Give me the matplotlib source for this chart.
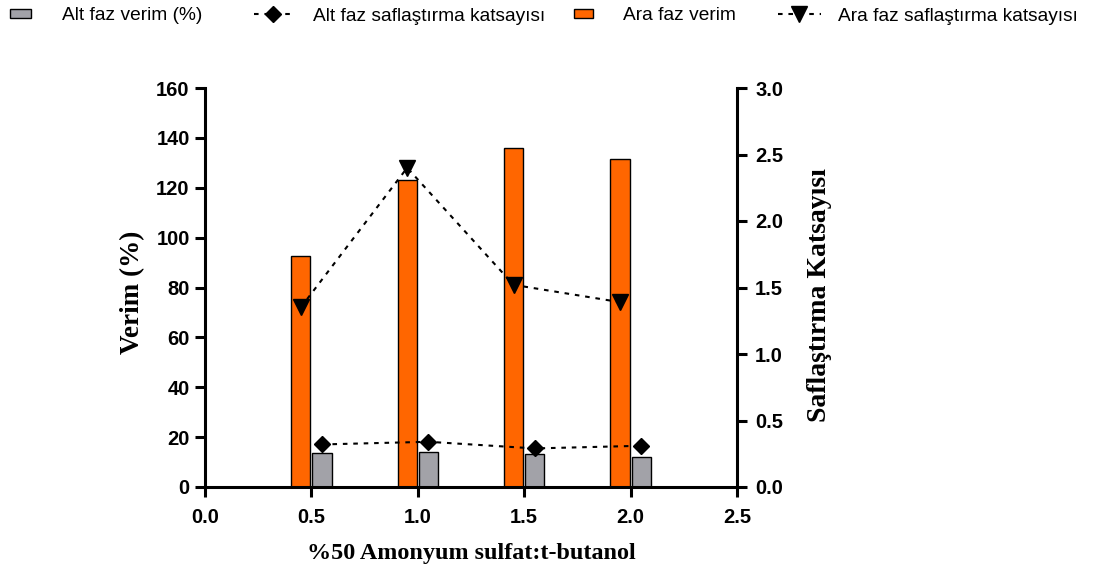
import matplotlib
matplotlib.use("Agg")
import matplotlib.pyplot as plt
from matplotlib.patches import Patch
from matplotlib.lines import Line2D
import numpy as np

# Data
ratios = [0.5, 1.0, 1.5, 2.0]
ara_verim = [92.6, 123.0, 136.0, 131.5]
alt_verim = [13.5, 13.9, 13.1, 11.9]
ara_saf = [1.35, 2.40, 1.52, 1.39]
alt_saf = [0.32, 0.34, 0.29, 0.31]

x_ticks = [0.0, 0.5, 1.0, 1.5, 2.0, 2.5]
y_ticks = list(range(0, 161, 20))
y2_ticks = [0.0, 0.5, 1.0, 1.5, 2.0, 2.5, 3.0]

ORANGE = "#FF6600"
GRAY = "#A2A2A8"
SANS = "Liberation Sans"
SERIF = "Liberation Serif"

W, H = 1095, 576
fig = plt.figure(figsize=(W / 100, H / 100), dpi=100)
ax = fig.add_axes([205 / W, 1 - 487 / H, (737 - 205) / W, (487 - 88) / H])
ax2 = ax.twinx()

x = np.array(ratios)
bw = 0.09
off = 0.05
ax.bar(x - off, ara_verim, width=bw, color=ORANGE, edgecolor="black", linewidth=1.0, zorder=2)
ax.bar(x + off, alt_verim, width=bw, color=GRAY, edgecolor="black", linewidth=1.0, zorder=2)

dash = (0, (2.2, 2.8))
ax2.plot(x - off, ara_saf, linestyle=dash, color="black", linewidth=1.5,
         marker="v", markersize=11.5, markerfacecolor="black", markeredgecolor="black")
ax2.plot(x + off, alt_saf, linestyle=dash, color="black", linewidth=1.5,
         marker="D", markersize=8, markerfacecolor="black", markeredgecolor="black")

ax.set_xlim(0, 2.5)
ax.set_ylim(0, 160)
ax2.set_ylim(0, 3.0)
ax.set_xticks(x_ticks)
ax.set_yticks(y_ticks)
ax2.set_yticks(y2_ticks)
ax.set_xticklabels([f"{v:.1f}" for v in x_ticks])
ax.set_yticklabels([str(v) for v in y_ticks])
ax2.set_yticklabels([f"{v:.1f}" for v in y2_ticks])

for a in (ax, ax2):
    a.spines["top"].set_visible(False)
    for s in a.spines.values():
        s.set_linewidth(2.2)
    a.tick_params(width=2.2, length=7, labelsize=14.5)
    for lab in a.get_xticklabels() + a.get_yticklabels():
        lab.set_fontfamily(SANS)
        lab.set_fontweight("bold")
ax.spines["right"].set_visible(False)
ax2.spines["left"].set_visible(False)
ax2.spines["bottom"].set_visible(False)
ax.tick_params(axis="x", pad=8)
ax.tick_params(axis="y", pad=4)
ax2.tick_params(axis="y", pad=6)

ax.set_xlabel("%50 Amonyum sulfat:t-butanol", fontfamily=SERIF, fontweight="bold",
              fontsize=17.4, labelpad=12)
ax.set_ylabel("Verim (%)", fontfamily=SERIF, fontweight="bold", fontsize=19.5, labelpad=8)
ax2.set_ylabel("Saflaştırma Katsayısı", fontfamily=SERIF, fontweight="bold",
               fontsize=20, labelpad=17, rotation=90)
ax.yaxis.label.set_y(0.488)
ax2.yaxis.label.set_y(0.482)

# Legend row along the top of the figure
LEG_FS = 13.8
entries = [
    (Patch(facecolor=GRAY, edgecolor="black", linewidth=1.0),
     "Alt faz verim (%)", 10, 1.1, 1.62),
    (Line2D([], [], linestyle=dash, color="black", linewidth=1.5, marker="D", markersize=8),
     "Alt faz saflaştırma katsayısı", 254, 1.98, 1.1),
    (Patch(facecolor=ORANGE, edgecolor="black", linewidth=1.0),
     "Ara faz verim", 574, 0.99, 1.56),
    (Line2D([], [], linestyle=dash, color="black", linewidth=1.5, marker="v", markersize=11.5),
     "Ara faz saflaştırma katsayısı", 778, 2.24, 0.89),
]
for handle, label, xpx, hlen, pad in entries:
    is_patch = isinstance(handle, Patch)
    fig.legend([handle], [label], loc="center left",
               bbox_to_anchor=(xpx / W, 1 - 16 / H), frameon=False,
               borderpad=0, borderaxespad=0, numpoints=1,
               handlelength=hlen,
               handleheight=0.31 if is_patch else 0.7,
               handletextpad=pad,
               prop={"family": SANS, "size": LEG_FS})

fig.savefig("out.png", dpi=100)
